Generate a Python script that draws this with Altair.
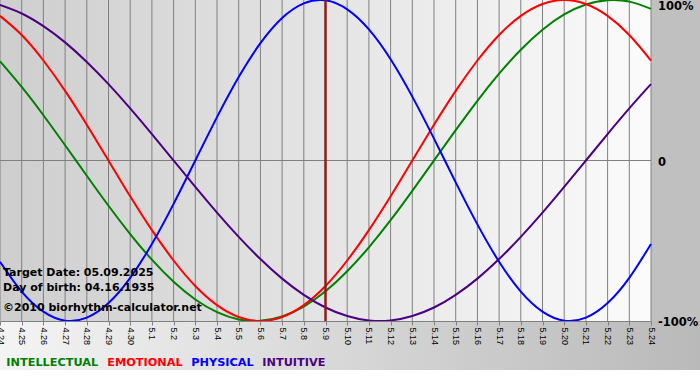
import altair as alt
import pandas as pd

days = ["4.24", "4.25", "4.26", "4.27", "4.28", "4.29", "4.30",
        "5.1", "5.2", "5.3", "5.4", "5.5", "5.6", "5.7", "5.8", "5.9",
        "5.10", "5.11", "5.12", "5.13", "5.14", "5.15", "5.16", "5.17",
        "5.18", "5.19", "5.20", "5.21", "5.22", "5.23", "5.24"]

intellectual = [0.618, 0.458, 0.282, 0.095, -0.095, -0.282, -0.458, -0.618, -0.756, -0.866,
                -0.945, -0.990, -0.999, -0.972, -0.910, -0.815, -0.690, -0.541, -0.372, -0.189,
                0.0, 0.189, 0.372, 0.541, 0.690, 0.815, 0.910, 0.972, 0.999, 0.990, 0.945]
emotional = [0.901, 0.782, 0.623, 0.434, 0.223, 0.0, -0.223, -0.434, -0.623, -0.782,
             -0.901, -0.975, -1.0, -0.975, -0.901, -0.782, -0.623, -0.434, -0.223, 0.0,
             0.223, 0.434, 0.623, 0.782, 0.901, 0.975, 1.0, 0.975, 0.901, 0.782, 0.623]
physical = [-0.631, -0.817, -0.942, -0.998, -0.979, -0.888, -0.731, -0.520, -0.270, 0.0,
            0.270, 0.520, 0.731, 0.888, 0.979, 0.998, 0.942, 0.817, 0.631, 0.398,
            0.136, -0.136, -0.398, -0.631, -0.817, -0.942, -0.998, -0.979, -0.888, -0.731, -0.520]
intuitive = [0.969, 0.916, 0.837, 0.736, 0.614, 0.476, 0.325, 0.165, 0.0, -0.165,
             -0.325, -0.476, -0.614, -0.736, -0.837, -0.916, -0.969, -0.997, -0.997, -0.969,
             -0.916, -0.837, -0.736, -0.614, -0.476, -0.325, -0.165, 0.0, 0.165, 0.325, 0.476]

series_names = ["INTELLECTUAL", "EMOTIONAL", "PHYSICAL", "INTUITIVE"]
series_colors = ["#008000", "#ff0000", "#0000ff", "#4b0082"]
target_day = "5.9"
pct_values = [1, 0, -1]
pct_labels = ["100%", "0", "-100%"]
info_lines = ["Target Date: 05.09.2025", "Day of birth: 04.16.1935", "\u00a92010 biorhythm-calculator.net"]

W, H = 651, 321

rows = []
for name, vals in zip(series_names, [intellectual, emotional, physical, intuitive]):
    for i, (d, v) in enumerate(zip(days, vals)):
        rows.append({"series": name, "day": d, "idx": i, "value": v})
df = pd.DataFrame(rows)
days_df = pd.DataFrame({"day": days})
one = pd.DataFrame({"a": [0]})

xscale = alt.Scale(type="point", padding=0, domain=days)
xaxis = alt.Axis(title=None, labelAngle=90, grid=False, tickColor="#808080", tickSize=4,
                 domainColor="#808080", labelFont="Liberation Sans", labelFontSize=9,
                 labelPadding=2, labelColor="#000000", zindex=1, labelOverlap=False)
xenc = alt.X("day:O", scale=xscale, axis=xaxis)
yscale = alt.Scale(domain=[-1, 1], nice=False, zero=False)

plot_bg = alt.Chart(one).mark_rect(
    fill=alt.LinearGradient(gradient="linear", x1=0, x2=1, y1=0, y2=0,
                            stops=[alt.GradientStop(color="#cecece", offset=0),
                                   alt.GradientStop(color="#fbfbfb", offset=1)])
).encode(x=alt.value(0), x2=alt.value("width"), y=alt.value(0), y2=alt.value("height"))

right_bg = alt.Chart(one).mark_rect(fill="#c0c0c0").encode(
    x=alt.value("width"), x2=alt.value(700), y=alt.value(0), y2=alt.value("height"))

bottom_bg = alt.Chart(one).mark_rect(
    fill=alt.LinearGradient(gradient="linear", x1=0, x2=1, y1=0, y2=0,
                            stops=[alt.GradientStop(color="#f4f4f4", offset=0),
                                   alt.GradientStop(color="#b9b9b9", offset=1)])
).encode(x=alt.value(0), x2=alt.value(700), y=alt.value("height"), y2=alt.value(370))

grid = alt.Chart(days_df).mark_rule(color="#808080", strokeWidth=1).encode(x=xenc)

zero = alt.Chart(one).mark_rule(color="#808080", strokeWidth=1).encode(
    y=alt.YDatum(0, type="quantitative", scale=yscale, axis=None))

lines = alt.Chart(df).mark_line(strokeWidth=2, interpolate="natural").encode(
    x=xenc,
    y=alt.Y("value:Q", scale=yscale, axis=None),
    color=alt.Color("series:N", scale=alt.Scale(domain=series_names, range=series_colors),
                    legend=alt.Legend(title=None, orient="none", legendX=7, legendY=357,
                                      direction="horizontal", columns=4, columnPadding=8,
                                      padding=0,
                                      symbolSize=0, symbolStrokeWidth=0, symbolOpacity=0,
                                      labelOffset=alt.ExprRef("-12"), labelFont="DejaVu Sans",
                                      labelFontSize=11.3, labelFontWeight="bold",
                                      labelLimit=300,
                                      labelColor=alt.ExprRef("scale('color', datum.value)"))),
    order="idx:Q",
)

target = alt.Chart(pd.DataFrame({"day": [target_day]})).mark_rule(
    color="#8b1c1c", strokeWidth=2.5).encode(x=xenc)

pct_df = pd.DataFrame({"v": pct_values, "t": pct_labels})
pct_top = alt.Chart(pct_df).transform_filter("datum.v == 1").mark_text(
    align="left", baseline="middle", dx=7, dy=7, font="DejaVu Sans", fontSize=11.5,
    fontWeight="bold", color="#000000").encode(
    x=alt.value("width"), y=alt.Y("v:Q", scale=yscale, axis=None), text="t:N")
pct_rest = alt.Chart(pct_df).transform_filter("datum.v != 1").mark_text(
    align="left", baseline="middle", dx=7, dy=2, font="DejaVu Sans", fontSize=11.5,
    fontWeight="bold", color="#000000").encode(
    x=alt.value("width"), y=alt.Y("v:Q", scale=yscale, axis=None), text="t:N")

info_layers = []
for line, ypos in zip(info_lines, [276, 291, 311]):
    info_layers.append(
        alt.Chart(one).mark_text(align="left", baseline="alphabetic", font="DejaVu Sans",
                                 fontSize=11, fontWeight="bold", color="#000000",
                                 text=line).encode(x=alt.value(3), y=alt.value(ypos)))

chart = alt.layer(plot_bg, right_bg, bottom_bg, grid, zero, lines, target,
                  pct_top, pct_rest, *info_layers).properties(
    width=W, height=H,
    autosize=alt.AutoSizeParams(type="none"),
    padding={"left": 0, "top": 0, "right": 49, "bottom": 59},
    background="#ffffff",
).configure_view(stroke=None)

chart.save("out.html", embed_options={"renderer": "svg", "actions": False})
